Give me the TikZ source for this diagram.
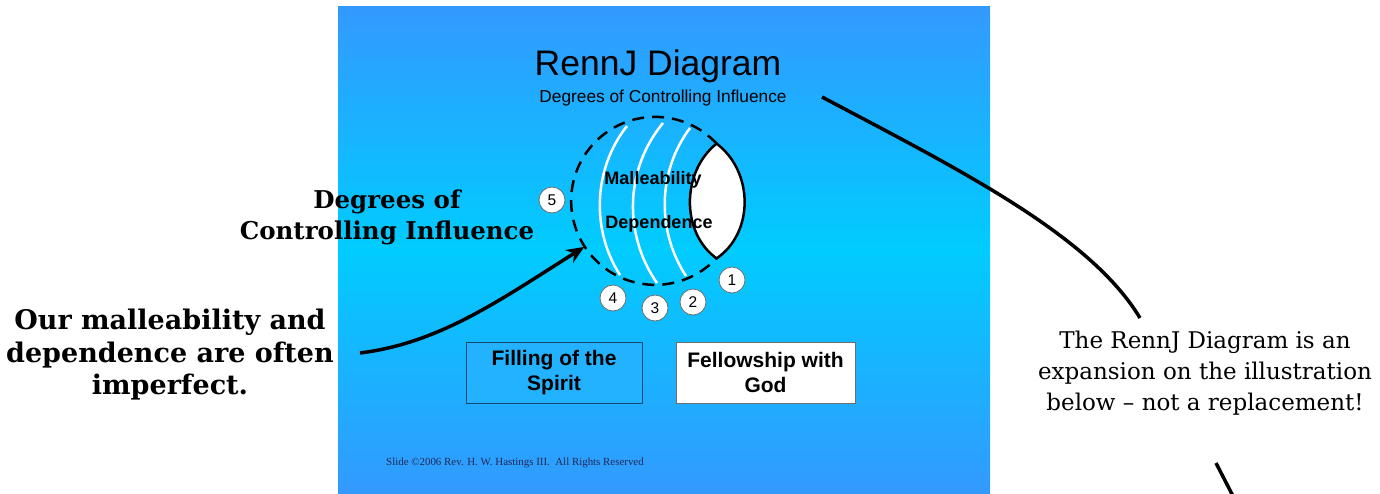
\documentclass[tikz,border=0pt]{standalone}
\usepackage{fontspec}
\setmainfont{DejaVu Serif}
\newfontfamily\slidesans{Liberation Sans}
\newfontfamily\slideserif{Liberation Serif}
\usetikzlibrary{arrows.meta}
\definecolor{slidetop}{RGB}{51,153,255}
\definecolor{slidemid}{RGB}{0,204,255}
\definecolor{boxblue}{RGB}{35,178,255}
\definecolor{boxedge}{RGB}{25,70,110}
\definecolor{badgeedge}{RGB}{110,110,110}
\definecolor{creditink}{RGB}{35,40,85}
\newcommand{\fsz}[2]{\fontsize{#1}{#2}\selectfont}

\begin{document}
\begin{tikzpicture}[
    x=1pt, y=-1pt,
    every node/.style={inner sep=0pt},
    badge/.style={circle, draw=badgeedge, fill=white, line width=0.8pt,
      minimum size=26pt, font=\slidesans\fsz{15.5}{17}},
    slidebox/.style={line width=1pt, minimum height=61pt, align=center,
      font=\slidesans\bfseries\fsz{21}{25}},
    remark/.style={align=center, font=\bfseries\fsz{24.5}{31}},
    ringline/.style={line width=2.5pt, dash pattern=on 12pt off 8pt},
    flow/.style={white, line width=2.5pt},
    pointer/.style={line width=3.5pt},
  ]
  \useasboundingbox (0,0) rectangle (1380,493);
  % slide
  \shade[top color=slidetop, bottom color=slidetop, middle color=slidemid]
    (338,6) rectangle (990,493);
  \node[font=\slidesans\fsz{35.5}{40}, anchor=base] (title) at (658,75) {RennJ Diagram};
  \node[font=\slidesans\fsz{17.3}{20}, anchor=base] (sub) at (663,102) {Degrees of Controlling Influence};

  % circle of influence
  \node[circle, minimum size=168pt] (ring) at (655,201) {};
  \draw[ringline] (ring.43) arc[start angle=43, end angle=317, radius=84pt];
  \draw[fill=white, line width=2.5pt] (ring.43) .. controls (681,172) and (681,233) .. (ring.317)
    .. controls (754,233) and (754,172) .. (ring.43) -- cycle;
  \draw[flow] (627,126) .. controls (592,170) and (592,232) .. (620,275);
  \draw[flow] (663,123) .. controls (624,170) and (624,236) .. (657,283);
  \draw[flow] (690,128) .. controls (657,172) and (657,232) .. (686,276);
  \node[font=\slidesans\bfseries\fsz{18}{20}] (mall) at (653,180) {Malleability};
  \node[font=\slidesans\bfseries\fsz{18}{20}] (dep) at (659,224) {Dependence};
  \foreach \n/\px/\py in {1/732/280, 2/693/302, 3/655/308, 4/613/298, 5/552/200}
    \node[badge] (n\n) at (\px,\py) {\n};

  \node[slidebox, fill=boxblue, draw=boxedge, minimum width=176pt] (spirit) at (554,372.5) {Filling of the\\Spirit};
  \node[slidebox, fill=white, draw=badgeedge, minimum width=179pt] (god) at (765.5,372.5) {Fellowship with\\God};
  \node[anchor=base west, font=\slideserif\fsz{10.9}{12}, text=creditink] (credit) at (386,465)
    {Slide ©2006 Rev. H. W. Hastings III.\ \ All Rights Reserved};

  % notes around the slide
  \node[remark] (degrees) at (387,217) {Degrees of\\Controlling Influence};
  \node[remark, font=\bfseries\fsz{27}{32.5}] (imperfect) at (170,355) {Our malleability and\\dependence are often\\imperfect.};
  \node[align=center, font=\fsz{23}{31}] (note) at (1205,373)
    {The RennJ Diagram is an\\expansion on the illustration\\below -- not a replacement!};

  \coordinate (tailA) at (822,97);
  \coordinate (headA) at (1140,318);
  \coordinate (tailB) at (360,353);
  \coordinate (tailC) at (1216,463);
  \coordinate (headC) at (1235,500);
  \draw[pointer] (tailA) .. controls (960,170) and (1090,235) .. (headA);
  \draw[pointer, -{Stealth[length=18pt, width=15pt, inset=6pt]}]
    (tailB) .. controls (440,343) and (500,300) .. (ring.213);
  \draw[pointer] (tailC) -- (headC);
\end{tikzpicture}
\end{document}
